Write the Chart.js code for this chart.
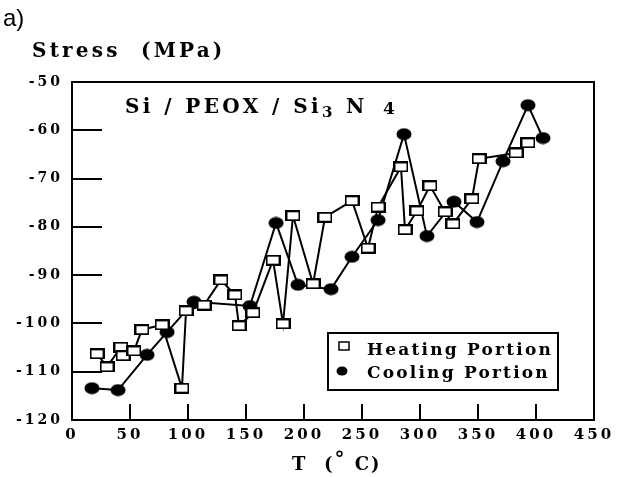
<!DOCTYPE html>
<html>
<head>
<meta charset="utf-8">
<script src="https://cdn.jsdelivr.net/npm/chart.js@4.4.0/dist/chart.umd.min.js"></script>
<style>
  html, body { margin: 0; padding: 0; background: #fff; }
</style>
</head>
<body>
<canvas id="c" width="622" height="477"></canvas>
<script>
// values
const heatingT = [21.6, 30.2, 42.2, 44.0, 53.4, 60.3, 77.6, 94.8, 98.3, 113.8, 128.4, 140.5, 144.0, 156.0, 173.3, 181.9,
  190.5, 207.8, 218.1, 241.4, 255.2, 263.8, 283.6, 287.1, 297.4, 308.6, 321.6, 328.4, 344.8, 350.9, 382.8, 393.1];
const heatingStress = [-106.3, -109.0, -104.9, -106.7, -105.7, -101.3, -100.3, -113.4, -97.4, -96.2, -91.0, -94.1, -100.5, -97.8, -86.9, -100.1,
  -77.7, -91.8, -78.0, -74.6, -84.4, -75.9, -67.6, -80.6, -76.7, -71.5, -76.9, -79.4, -74.2, -65.9, -64.7, -62.6];
const coolingT = [17.2, 39.7, 64.7, 81.9, 105.2, 153.4, 175.9, 194.8, 223.3, 241.4, 263.8, 286.2, 306.0, 329.3, 349.1, 371.6, 393.1, 406.0];
const coolingStress = [-113.4, -113.8, -106.5, -101.8, -95.5, -96.4, -79.2, -92.0, -92.9, -86.2, -78.6, -60.8, -81.9, -74.8, -79.0, -66.4, -54.8, -61.6];
const xTicks = [0, 50, 100, 150, 200, 250, 300, 350, 400, 450];
const yTicks = [-120, -110, -100, -90, -80, -70, -60, -50];
const seriesNames = ['Heating Portion', 'Cooling Portion'];

const SERIF = '"DejaVu Serif", "Liberation Serif", serif';

// markers: open rectangle and filled ellipse
function squareMarker() {
  const c = document.createElement('canvas');
  c.width = 15; c.height = 11;
  const g = c.getContext('2d');
  g.fillStyle = '#fff';
  g.fillRect(1, 1, 13, 9);
  g.lineWidth = 2;
  g.strokeStyle = '#000';
  g.strokeRect(1, 1, 13, 9);
  return c;
}
function dotMarker() {
  const c = document.createElement('canvas');
  c.width = 16; c.height = 13;
  const g = c.getContext('2d');
  g.fillStyle = '#000';
  g.beginPath();
  g.ellipse(8, 6.5, 7.5, 6, 0, 0, Math.PI * 2);
  g.fill();
  return c;
}
const sq = squareMarker();
const dot = dotMarker();

function spaced(ctx, text, x, y, font, spacing, align) {
  ctx.save();
  ctx.font = font;
  ctx.letterSpacing = spacing + 'px';
  ctx.textAlign = align || 'left';
  ctx.textBaseline = 'alphabetic';
  ctx.fillStyle = '#000';
  ctx.fillText(text, x, y);
  const w = ctx.measureText(text).width;
  ctx.restore();
  return w;
}

const decor = {
  id: 'decor',
  beforeDraw(chart) {
    chart.ctx.letterSpacing = '3px';
  },
  afterDraw(chart) {
    const ctx = chart.ctx;
    const a = chart.chartArea;
    const xs = chart.scales.x, ys = chart.scales.y;
    ctx.letterSpacing = '0px';
    ctx.save();
    ctx.strokeStyle = '#000';
    ctx.lineWidth = 2;
    ctx.strokeRect(a.left, a.top, a.right - a.left, a.bottom - a.top);
    // inward ticks
    ctx.beginPath();
    yTicks.slice(1, -1).forEach(v => {
      const y = Math.round(ys.getPixelForValue(v));
      ctx.moveTo(a.left, y); ctx.lineTo(a.left + 30, y);
    });
    xTicks.slice(1, -1).forEach(v => {
      const x = Math.round(xs.getPixelForValue(v));
      ctx.moveTo(x, a.bottom); ctx.lineTo(x, a.bottom - 16);
    });
    ctx.stroke();
    ctx.restore();

    spaced(ctx, 'a)', 3, 26, '24px "Liberation Sans Narrow", "Liberation Sans", sans-serif', 0);
    spaced(ctx, 'Stress  (MPa)', 32, 57, 'bold 20px ' + SERIF, 3.2);

    // inner label Si / PEOX / Si3N4
    const tf = 'bold 20px ' + SERIF;
    spaced(ctx, 'Si / PEOX / Si', 125, 113, tf, 3.4);
    spaced(ctx, '3', 322, 117, 'bold 15px ' + SERIF, 0);
    spaced(ctx, 'N', 346, 113, tf, 0);
    spaced(ctx, '4', 383, 114, 'bold 17px ' + SERIF, 0);

    // legend box
    ctx.save();
    ctx.lineWidth = 2;
    ctx.strokeStyle = '#000';
    ctx.fillStyle = '#fff';
    ctx.fillRect(328, 333, 230, 57);
    ctx.strokeRect(328, 333, 230, 57);
    ctx.restore();
    ctx.save();
    ctx.lineWidth = 1.5;
    ctx.strokeRect(339, 342, 10, 8);
    ctx.beginPath();
    ctx.ellipse(342, 371, 5.5, 4.5, 0, 0, Math.PI * 2);
    ctx.fill();
    ctx.restore();
    spaced(ctx, seriesNames[0], 367, 355, 'bold 17px ' + SERIF, 2.2);
    spaced(ctx, seriesNames[1], 367, 378, 'bold 17px ' + SERIF, 2.2);

    // x axis title
    const xf = 'bold 18px ' + SERIF;
    let tx = 292;
    tx += spaced(ctx, 'T  (', tx, 470, xf, 2);
    tx += spaced(ctx, '°', tx, 466, 'bold 20px ' + SERIF, 2);
    spaced(ctx, ' C)', tx, 470, xf, 2);
  }
};

new Chart(document.getElementById('c'), {
  type: 'scatter',
  data: {
    datasets: [{
      label: seriesNames[0],
      data: heatingT.map((t, i) => ({ x: t, y: heatingStress[i] })),
      showLine: true,
      borderColor: '#000',
      borderWidth: 2,
      pointStyle: sq,
      pointRadius: 7,
      order: 1
    }, {
      label: seriesNames[1],
      data: coolingT.map((t, i) => ({ x: t, y: coolingStress[i] })),
      showLine: true,
      borderColor: '#000',
      borderWidth: 2,
      pointStyle: dot,
      pointRadius: 7,
      order: 2
    }]
  },
  options: {
    responsive: false,
    animation: false,
    layout: { padding: { top: 82, right: 28, left: 0, bottom: 0 } },
    plugins: { legend: { display: false }, tooltip: { enabled: false } },
    scales: {
      x: {
        type: 'linear',
        min: 0, max: 450,
        afterBuildTicks: s => { s.ticks = xTicks.map(v => ({ value: v })); },
        afterFit: s => { s.height = 57; },
        grid: { display: false, drawTicks: false },
        border: { display: false },
        ticks: { color: '#000', padding: 6, maxRotation: 0, font: { family: SERIF, size: 15, weight: 'bold' } }
      },
      y: {
        min: -120, max: -50,
        afterBuildTicks: s => { s.ticks = yTicks.map(v => ({ value: v })); },
        afterFit: s => { s.width = 72; },
        grid: { display: false, drawTicks: false },
        border: { display: false },
        ticks: { color: '#000', padding: 9, font: { family: SERIF, size: 14, weight: 'bold' } }
      }
    }
  },
  plugins: [decor]
});
</script>
</body>
</html>
